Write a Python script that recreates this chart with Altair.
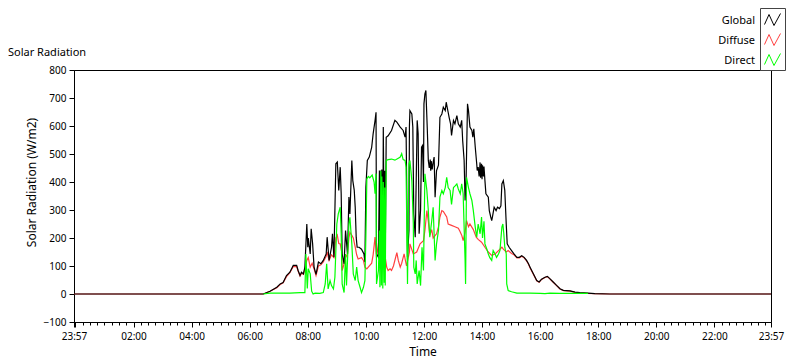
import altair as alt
import pandas as pd

# ---- data (minutes since midnight, W/m2) ----
global_t = [-3, 388, 402, 416, 423, 429, 436, 443, 450, 457, 460, 464, 467, 471, 474, 478, 480, 481, 485, 487,
            490, 493, 497, 502, 507, 512, 518, 520, 524, 529, 531, 534, 538, 541, 544, 547, 549, 551, 555, 558,
            562, 565, 567, 571, 573, 576, 578, 580, 582, 586, 591, 596, 598, 600, 603, 607, 612, 615, 619, 621,
            622, 626, 628, 629, 631, 632, 633, 635, 636, 638, 639, 640, 642, 646, 653, 660, 664, 671, 677, 681,
            683, 686, 689, 690, 691, 695, 697, 699, 702, 704, 706, 708, 710, 713, 715, 717, 719, 720, 722, 724,
            727, 729, 731, 733, 734, 735, 737, 739, 741, 743, 746, 750, 753, 757, 760, 764, 766, 768, 772, 775,
            777, 781, 784, 788, 791, 795, 798, 800, 803, 805, 807, 810, 812, 815, 819, 821, 823, 826, 829, 830,
            832, 834, 836, 837, 839, 840, 841, 843, 844, 846, 848, 853, 855, 858, 860, 862, 865, 869, 872, 876,
            879, 881, 884, 887, 890, 892, 896, 901, 906, 912, 917, 922, 927, 932, 936, 939, 946, 953, 958, 963,
            970, 975, 980, 987, 994, 1001, 1008, 1022, 1032, 1042, 1059, 1073, 1104, 1437]
global_v = [0, 0, 10, 24, 36, 41, 66, 78, 102, 102, 84, 66, 78, 72, 96, 250, 167, 200, 143, 233,
            179, 96, 70, 114, 108, 120, 143, 203, 120, 167, 215, 131, 465, 471, 370, 453, 358, 143, 108, 227,
            143, 346, 286, 477, 405, 370, 310, 203, 167, 167, 160, 143, 114, 381, 477, 489, 524, 572, 620, 649,
            143, 131, 441, 130, 441, 130, 445, 135, 596, 140, 440, 135, 560, 565, 584, 620, 614, 596, 584, 560,
            596, 131, 227, 600, 655, 643, 596, 286, 203, 405, 620, 572, 215, 300, 524, 530, 400, 679, 715, 727,
            584, 477, 450, 480, 440, 475, 445, 470, 489, 346, 441, 460, 631, 643, 667, 655, 685, 667, 631, 608,
            566, 620, 608, 637, 608, 596, 620, 548, 477, 334, 405, 679, 655, 596, 584, 560, 590, 524, 465, 441,
            453, 420, 470, 415, 465, 410, 460, 420, 455, 405, 358, 346, 298, 275, 262, 280, 310, 298, 310, 305,
            315, 393, 405, 370, 250, 179, 167, 155, 143, 131, 131, 137, 131, 120, 108, 96, 72, 48, 43, 53,
            60, 63, 55, 43, 31, 19, 13, 11, 7, 5, 3, 1, 0, 0]

diffuse_t = [-3, 388, 402, 416, 423, 429, 436, 443, 450, 457, 460, 464, 467, 471, 474, 478, 481, 485, 489, 493,
             497, 502, 507, 512, 518, 520, 524, 529, 534, 538, 541, 544, 547, 550, 551, 555, 558, 562, 565, 567,
             571, 574, 578, 581, 584, 591, 595, 598, 602, 605, 612, 615, 619, 622, 626, 629, 633, 636, 640, 643,
             646, 650, 653, 657, 664, 667, 671, 674, 679, 684, 690, 691, 698, 705, 712, 719, 722, 726, 729, 732,
             736, 739, 746, 750, 753, 757, 760, 767, 770, 777, 784, 791, 794, 798, 801, 805, 808, 812, 815, 822,
             828, 832, 839, 846, 853, 860, 867, 874, 881, 884, 890, 894, 901, 906, 912, 917, 922, 927, 932, 936,
             939, 946, 953, 958, 963, 970, 975, 980, 987, 994, 1001, 1008, 1022, 1032, 1042, 1059, 1073, 1104, 1437]
diffuse_v = [0, 0, 10, 22, 34, 40, 62, 76, 98, 98, 82, 64, 74, 70, 90, 120, 130, 96, 110, 90,
             66, 100, 104, 115, 135, 150, 120, 140, 130, 200, 210, 180, 179, 150, 84, 108, 130, 143, 200, 220,
             210, 200, 167, 140, 125, 130, 120, 96, 90, 96, 110, 140, 203, 130, 180, 170, 190, 175, 131, 96,
             84, 90, 84, 100, 148, 120, 96, 110, 143, 100, 150, 179, 143, 150, 179, 190, 227, 298, 260, 210,
             230, 200, 215, 240, 275, 298, 295, 275, 250, 245, 240, 235, 225, 210, 191, 220, 262, 240, 250, 230,
             203, 195, 185, 167, 150, 138, 143, 155, 167, 160, 150, 155, 145, 140, 129, 129, 135, 129, 118, 106,
             94, 71, 47, 42, 52, 59, 62, 54, 42, 30, 18, 12, 10, 6, 4, 2, 1, 0, 0]

direct_t = [388, 402, 443, 464, 474, 476, 479, 481, 485, 488, 491, 495, 505, 512, 516, 519, 522, 526, 529, 533,
            536, 540, 543, 547, 549, 551, 555, 558, 560, 565, 567, 571, 574, 578, 581, 584, 588, 591, 595, 598,
            600, 602, 605, 608, 613, 617, 619, 621, 622, 626, 628, 629, 631, 632, 633, 635, 636, 638, 639, 640,
            642, 646, 653, 660, 667, 671, 674, 677, 681, 683, 686, 689, 691, 695, 698, 699, 702, 704, 706, 710,
            713, 716, 719, 722, 726, 729, 732, 736, 739, 743, 746, 750, 753, 757, 760, 764, 767, 770, 774, 777,
            781, 784, 788, 791, 795, 798, 801, 805, 806, 808, 812, 815, 819, 822, 826, 829, 832, 836, 839, 841,
            844, 846, 850, 853, 856, 860, 863, 867, 870, 874, 877, 881, 883, 885, 887, 890, 891, 894, 901, 912,
            939, 960, 970, 980, 1001, 1059]
direct_v = [0, 3, 3, 5, 5, 143, 20, 90, 72, 10, 0, 3, 2, 5, 36, 108, 18, 48, 30, 18,
            60, 250, 286, 310, 215, 36, 5, 143, 30, 250, 274, 179, 72, 48, 96, 48, 24, 5, 24, 48,
            203, 411, 420, 415, 425, 400, 358, 430, 36, 84, 227, 24, 440, 30, 420, 20, 400, 40, 380, 30,
            477, 480, 482, 478, 485, 489, 501, 480, 477, 453, 36, 465, 477, 405, 250, 96, 72, 120, 36, 84,
            30, 167, 84, 429, 370, 298, 203, 260, 310, 120, 179, 227, 346, 370, 358, 380, 417, 380, 370, 320,
            380, 385, 393, 375, 358, 393, 358, 120, 36, 417, 380, 358, 334, 298, 239, 203, 250, 215, 275, 200,
            260, 179, 160, 143, 130, 120, 155, 143, 131, 143, 155, 239, 250, 215, 167, 143, 36, 12, 8, 3,
            3, 2, 1, 3, 2, 2]

series_names = ["Global", "Diffuse", "Direct"]
series_colors = ["#000000", "#ff4040", "#00ff00"]

y_ticks = [-100, 0, 100, 200, 300, 400, 500, 600, 700, 800]
x_major = [-3, 120, 240, 360, 480, 600, 720, 840, 960, 1080, 1200, 1320, 1437]
x_major_labels = ["23:57", "02:00", "04:00", "06:00", "08:00", "10:00", "12:00",
                  "14:00", "16:00", "18:00", "20:00", "22:00", "23:57"]
x_minor = list(range(0, 1440, 15))

# ---- table ----
rows = []
for name, ts, vs in [("Global", global_t, global_v),
                     ("Diffuse", diffuse_t, diffuse_v),
                     ("Direct", direct_t, direct_v)]:
    for t, v in zip(ts, vs):
        rows.append({"time": t, "value": v, "series": name})
df = pd.DataFrame(rows)

tick_vals = sorted(set(x_minor + x_major))
label_expr = "''"
for v, lab in zip(x_major, x_major_labels):
    label_expr = f"datum.value == {v} ? '{lab}' : ({label_expr})"
major_test = " || ".join(f"datum.value == {v}" for v in x_major) + " || datum.value % 120 == 0"

FONT = "Noto Sans"

x_enc = alt.X(
    "time:Q",
    scale=alt.Scale(domain=[-3, 1437], nice=False, zero=False),
    axis=alt.Axis(
        values=tick_vals, labelExpr=label_expr, grid=False,
        tickSize={"condition": {"test": major_test, "value": 5}, "value": 3},
        labelFontSize=10, labelPadding=4, labelOverlap=False, labelFlush=False,
        titleFontSize=12, titlePadding=5,
    ),
    title="Time",
)
y_enc = alt.Y(
    "value:Q",
    scale=alt.Scale(domain=[-100, 800], nice=False, zero=False),
    axis=alt.Axis(values=y_ticks, grid=False, tickSize=5, labelFontSize=10,
                  labelPadding=3, titleFontSize=12, titlePadding=5, titleY=112),
    title="Solar Radiation (W/m2)",
)
color_enc = alt.Color(
    "series:N",
    scale=alt.Scale(domain=series_names, range=series_colors),
    legend=alt.Legend(
        title=None, orient="none", legendX=686, legendY=-62, direction="vertical",
        symbolType="M-0.8,0.4L-0.35,-0.6L0.15,0.5L0.8,-0.7",
        symbolSize=400, symbolStrokeWidth=1, symbolFillColor="transparent",
        labelFontSize=11, labelFont=FONT, labelColor="black",
        labelAlign="right", labelOffset={"expr": "-28"},
        rowPadding=2, padding=2, strokeColor="#444444", fillColor="white",
    ),
)

base = alt.Chart(df).mark_line(strokeWidth=1.2, clip=True).encode(x=x_enc, y=y_enc, color=color_enc)

chart = alt.layer(
    base.transform_filter(alt.datum.series == "Diffuse"),
    base.transform_filter(alt.datum.series == "Global"),
    base.transform_filter(alt.datum.series == "Direct"),
).properties(
    width=697, height=252,
    title=alt.Title("Solar Radiation", anchor="start", frame="group", dx=-66, dy=54,
                    fontSize=11, fontWeight="normal", font=FONT, color="black"),
    autosize=alt.AutoSizeParams(type="none"),
    padding={"left": 66, "top": 62, "right": 21, "bottom": 39},
).configure_view(
    stroke="black", strokeWidth=1
).configure_axis(
    domainColor="black", tickColor="black", labelColor="black", titleColor="black",
    labelFont=FONT, titleFont=FONT, titleFontWeight="normal",
)

chart.save("out.html", embed_options={"renderer": "svg", "actions": False})
